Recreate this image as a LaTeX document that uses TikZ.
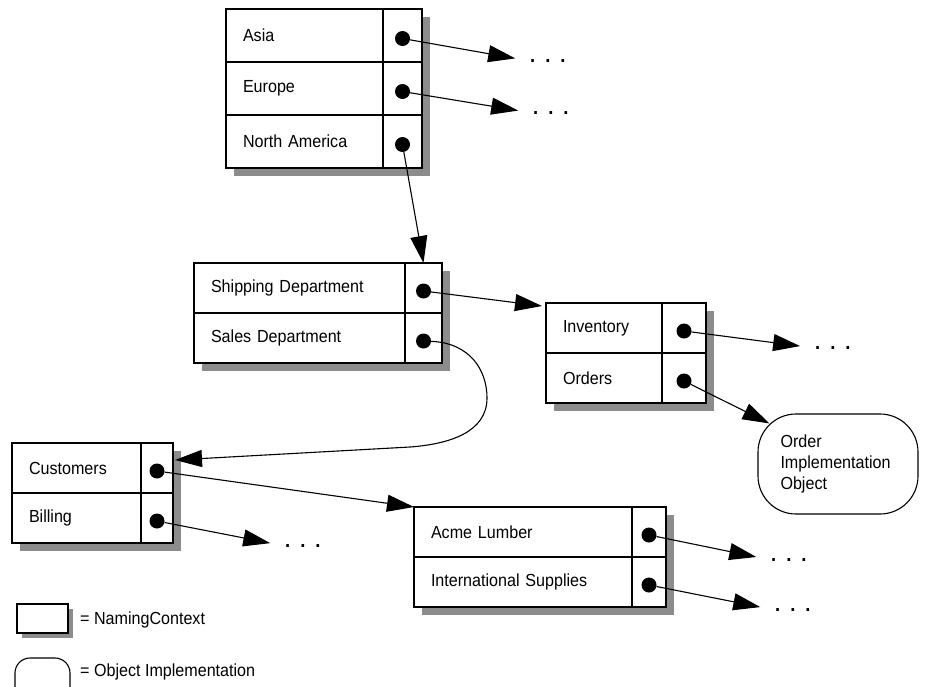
\documentclass[tikz,border=0pt]{standalone}
\usepackage{fontspec}
\setmainfont{Liberation Sans}[FakeStretch=0.92]
\usetikzlibrary{arrows.meta,positioning,fit,backgrounds,shadows}

\tikzset{
  namecell/.style={rectangle, draw, line width=1.2pt, outer sep=0pt, inner xsep=17pt, inner ysep=0pt, text width=#1, minimum height=50pt, align=left},
  ptrcell/.style={rectangle, draw, line width=1.2pt, outer sep=0pt, inner sep=0pt, minimum width=#1, minimum height=50pt},
  pointer/.style={circle, fill=black, inner sep=0pt, minimum size=15pt},
  frame/.style={rectangle, draw, fill=white, line width=2.4pt, inner sep=0pt, drop shadow={shadow xshift=#1, shadow yshift=-#1, fill=black!45, opacity=1}},
  frame/.default=8pt,
  more/.style={inner sep=0pt, anchor=west, font=\fontsize{20}{20}\selectfont\bfseries},
  keytext/.style={inner sep=0pt, anchor=west},
  link/.style={-{Triangle[length=27pt,width=17pt]}, line width=1.1pt},
}

\begin{document}
\begin{tikzpicture}[x=1pt, y=-1pt, font=\fontsize{17.5}{21}\selectfont]
    \clip (0,0) rectangle (925,686);

    % Continents
    \node[namecell=123pt, minimum height=53pt, anchor=north west] (asiaN) at (226,9) {Asia};
    \node[ptrcell=39pt, minimum height=53pt, right=0pt of asiaN] (asiaR) {};
    \node[namecell=123pt, minimum height=53pt, below=0pt of asiaN] (euroN) {Europe};
    \node[ptrcell=39pt, minimum height=53pt, right=0pt of euroN] (euroR) {};
    \node[namecell=123pt, minimum height=53pt, below=0pt of euroN] (naN) {North America};
    \node[ptrcell=39pt, minimum height=53pt, right=0pt of naN] (naR) {};
    \node[pointer] (asiaP) at ([yshift=-3pt]asiaR.center) {};
    \node[pointer] (euroP) at ([yshift=-3pt]euroR.center) {};
    \node[pointer] (naP) at ([yshift=-3pt]naR.center) {};
    \node[more] (asiaE) at (530,61) {.\hspace{10pt}.\hspace{10pt}.};
    \node[more] (euroE) at (533,113) {.\hspace{10pt}.\hspace{10pt}.};

    % Departments
    \node[namecell=177pt, anchor=north west] (shipN) at (194,263) {Shipping Department};
    \node[ptrcell=37pt, right=0pt of shipN] (shipR) {};
    \node[namecell=177pt, below=0pt of shipN] (salesN) {Sales Department};
    \node[ptrcell=37pt, right=0pt of salesN] (salesR) {};
    \node[pointer] (shipP) at ([yshift=-3pt]shipR.center) {};
    \node[pointer] (salesP) at ([yshift=-3pt]salesR.center) {};

    % Shipping
    \node[namecell=82pt, anchor=north west] (invN) at (546,303) {Inventory};
    \node[ptrcell=44pt, right=0pt of invN] (invR) {};
    \node[namecell=82pt, below=0pt of invN] (ordN) {Orders};
    \node[ptrcell=44pt, right=0pt of ordN] (ordR) {};
    \node[pointer] (invP) at ([yshift=-3pt]invR.center) {};
    \node[pointer] (ordP) at ([yshift=-3pt]ordR.center) {};
    \node[more] (invE) at (815,348) {.\hspace{10pt}.\hspace{10pt}.};
    \node[rectangle, draw, rounded corners=38pt, line width=1.1pt, minimum width=160pt, minimum height=100pt, text width=115pt, align=left] (impl) at (838,464) {Order\\Implementation\\Object};

    % Sales
    \node[namecell=95pt, anchor=north west] (custN) at (12,443) {Customers};
    \node[ptrcell=32pt, right=0pt of custN] (custR) {};
    \node[namecell=95pt, below=0pt of custN] (billN) {Billing};
    \node[ptrcell=32pt, right=0pt of billN] (billR) {};
    \node[pointer] (custP) at ([yshift=-3pt]custR.center) {};
    \node[pointer] (billP) at ([yshift=-3pt]billR.center) {};
    \node[more] (billE) at (285,546) {.\hspace{10pt}.\hspace{10pt}.};

    % Customers
    \node[namecell=184pt, anchor=north west] (acmeN) at (414,507) {Acme Lumber};
    \node[ptrcell=34pt, right=0pt of acmeN] (acmeR) {};
    \node[namecell=184pt, below=0pt of acmeN] (intlN) {International Supplies};
    \node[ptrcell=34pt, right=0pt of intlN] (intlR) {};
    \node[pointer] (acmeP) at ([yshift=-3pt]acmeR.center) {};
    \node[pointer] (intlP) at ([yshift=-3pt]intlR.center) {};
    \node[more] (acmeE) at (771,560) {.\hspace{10pt}.\hspace{10pt}.};
    \node[more] (intlE) at (775,610) {.\hspace{10pt}.\hspace{10pt}.};

    % Frames and shadows
    \begin{scope}[on background layer]
        \node[frame, fit=(asiaN)(naR)] (continents) {};
        \node[frame, fit=(shipN)(salesR)] (departments) {};
        \node[frame, fit=(invN)(ordR)] (shipping) {};
        \node[frame, fit=(custN)(billR)] (sales) {};
        \node[frame, fit=(acmeN)(intlR)] (customers) {};
    \end{scope}

    % Bindings
    \draw[link, shorten >=15pt] (asiaP) -- (asiaE.west);
    \draw[link, shorten >=15pt] (euroP) -- (euroE.west);
    \draw[link] (naP) -- (shipR.north);
    \draw[link] (shipP) -- ([xshift=-4pt,yshift=-3pt]invN.north west);
    \draw[link] (salesP) .. controls (470,343) and (487,370) .. (487,398)
        .. controls (487,432) and (450,444) .. (410,447) -- ([xshift=2pt,yshift=8pt]custR.east);
    \draw[link, shorten >=15pt] (invP) -- (invE.west);
    \draw[link] (ordP) -- ([xshift=12pt,yshift=-10pt]impl.north west);
    \draw[link] (custP) -- (acmeN.north west);
    \draw[link, shorten >=15pt] (billP) -- (billE.west);
    \draw[link, shorten >=15pt] (acmeP) -- (acmeE.west);
    \draw[link, shorten >=15pt] (intlP) -- (intlE.west);

    % Legend
    \node[frame=5pt, minimum width=51pt, minimum height=29pt] (ctxkey) at (42.5,618.5) {};
    \node[keytext] (ctxtext) at (80,620) {= NamingContext};
    \node[rectangle, draw, rounded corners=15pt, line width=1.1pt, minimum width=55pt, minimum height=44pt] (objkey) at (42.5,680) {};
    \node[keytext] (objtext) at (80,672) {= Object Implementation};
\end{tikzpicture}
\end{document}
